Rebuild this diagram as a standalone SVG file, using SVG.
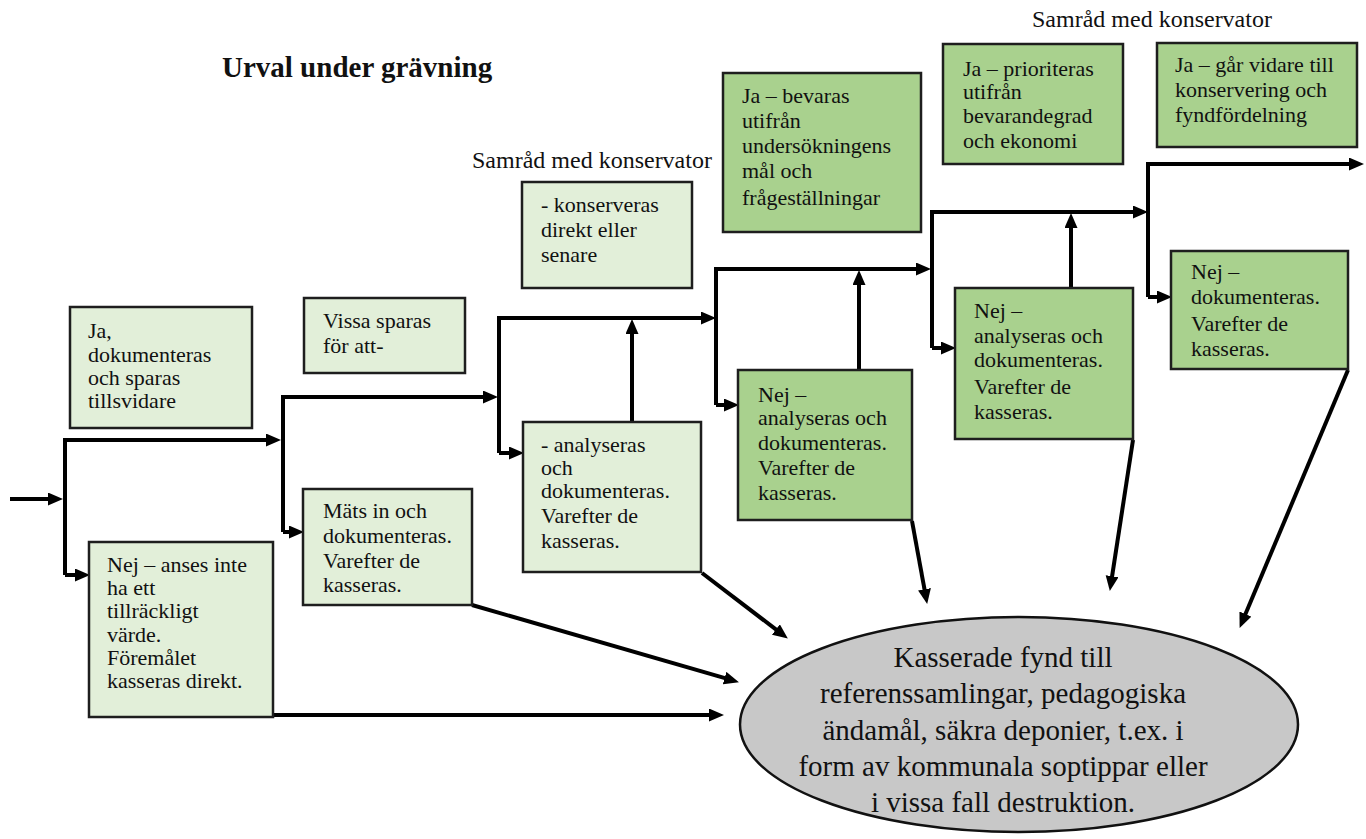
<svg xmlns="http://www.w3.org/2000/svg" width="1366" height="839" viewBox="0 0 1366 839">
<defs>
<marker id="ah" markerUnits="userSpaceOnUse" markerWidth="16" markerHeight="14" refX="4" refY="6.5" orient="auto">
<path d="M0,0 L15,6.5 L0,13 z" fill="#000"/>
</marker>
<style>
.box1{fill:#e2efd9;stroke:#1e1e1e;stroke-width:2.5}
.box2{fill:#a9d18e;stroke:#1e1e1e;stroke-width:2.5}
.t{font-size:22px;fill:#111}
.lbl{font-size:24px;fill:#111}
.title{font-size:29px;font-weight:bold;fill:#111}
.et{font-size:29px;fill:#111;text-anchor:middle}
.ca{fill:none;stroke:#000;stroke-width:4;marker-end:url(#ah)}
</style>
</defs>
<rect width="1366" height="839" fill="#fff"/>

<g id="labels" font-family="'Liberation Serif', 'DejaVu Serif', serif">
<text class="title" x="222" y="77">Urval under grävning</text>
<text class="lbl" x="472" y="168">Samråd med konservator</text>
<text class="lbl" x="1032" y="27">Samråd med konservator</text>
</g>

<g id="connectors">
<path class="ca" d="M10,499 H52"/>
<path class="ca" d="M65,575 V440 H270"/>
<path class="ca" d="M65,575 H79"/>
<path class="ca" d="M283,532 V397 H487"/>
<path class="ca" d="M283,532 H293"/>
<path class="ca" d="M499,453 V318 H705"/>
<path class="ca" d="M499,453 H513"/>
<path class="ca" d="M632,422 V330"/>
<path class="ca" d="M716,405 V269 H920"/>
<path class="ca" d="M716,405 H728"/>
<path class="ca" d="M859,370 V281"/>
<path class="ca" d="M932,348 V212 H1137"/>
<path class="ca" d="M932,348 H945"/>
<path class="ca" d="M1071,288 V224"/>
<path class="ca" d="M1148,297 V164 H1353"/>
<path class="ca" d="M1148,297 H1161"/>
<path class="ca" d="M273,715 H713"/>
<path class="ca" d="M472,605 L728.4,679.2"/>
<path class="ca" d="M702,573 L779.1,631.9"/>
<path class="ca" d="M912,521 L925.2,593.2"/>
<path class="ca" d="M1133,440 L1111.5,580.1"/>
<path class="ca" d="M1348,370 L1243.9,617.8"/>
</g>

<g id="nodes" font-family="'Liberation Serif', 'DejaVu Serif', serif">
<g id="n-ja1">
<rect class="box1" x="70" y="307" width="182" height="121"/>
<text class="t"><tspan x="88" y="338">Ja,</tspan><tspan x="88" y="361.5">dokumenteras</tspan><tspan x="88" y="385">och sparas</tspan><tspan x="88" y="408">tillsvidare</tspan></text>
</g>
<g id="n-nej1">
<rect class="box1" x="89" y="542" width="184" height="175"/>
<text class="t"><tspan x="107" y="572">Nej – anses inte</tspan><tspan x="107" y="595">ha ett</tspan><tspan x="107" y="618">tillräckligt</tspan><tspan x="107" y="642">värde.</tspan><tspan x="107" y="665">Föremålet</tspan><tspan x="107" y="688">kasseras direkt.</tspan></text>
</g>
<g id="n-vissa">
<rect class="box1" x="304" y="298" width="161" height="75"/>
<text class="t"><tspan x="323" y="328">Vissa sparas</tspan><tspan x="323" y="353">för att-</tspan></text>
</g>
<g id="n-mats">
<rect class="box1" x="303" y="489" width="169" height="116"/>
<text class="t"><tspan x="323" y="518">Mäts in och</tspan><tspan x="323" y="543">dokumenteras.</tspan><tspan x="323" y="568">Varefter de</tspan><tspan x="323" y="592">kasseras.</tspan></text>
</g>
<g id="n-konserveras">
<rect class="box1" x="522" y="182" width="170" height="106"/>
<text class="t"><tspan x="541" y="212">- konserveras</tspan><tspan x="541" y="237">direkt eller</tspan><tspan x="541" y="262">senare</tspan></text>
</g>
<g id="n-analyseras1">
<rect class="box1" x="523" y="422" width="178" height="150"/>
<text class="t"><tspan x="541" y="452">- analyseras</tspan><tspan x="541" y="475">och</tspan><tspan x="541" y="498">dokumenteras.</tspan><tspan x="541" y="523">Varefter de</tspan><tspan x="541" y="548">kasseras.</tspan></text>
</g>
<g id="n-bevaras">
<rect class="box2" x="723" y="73" width="198" height="159"/>
<text class="t"><tspan x="742" y="103">Ja – bevaras</tspan><tspan x="742" y="128">utifrån</tspan><tspan x="742" y="153">undersökningens</tspan><tspan x="742" y="178">mål och</tspan><tspan x="742" y="205">frågeställningar</tspan></text>
</g>
<g id="n-nej2">
<rect class="box2" x="738" y="370" width="174" height="150"/>
<text class="t"><tspan x="758" y="402">Nej –</tspan><tspan x="758" y="425">analyseras och</tspan><tspan x="758" y="450">dokumenteras.</tspan><tspan x="758" y="475">Varefter de</tspan><tspan x="758" y="500">kasseras.</tspan></text>
</g>
<g id="n-prioriteras">
<rect class="box2" x="943" y="44" width="180" height="120"/>
<text class="t"><tspan x="963" y="76">Ja – prioriteras</tspan><tspan x="963" y="99">utifrån</tspan><tspan x="963" y="123">bevarandegrad</tspan><tspan x="963" y="148">och ekonomi</tspan></text>
</g>
<g id="n-nej3">
<rect class="box2" x="955" y="288" width="178" height="151"/>
<text class="t"><tspan x="974" y="318">Nej –</tspan><tspan x="974" y="343">analyseras och</tspan><tspan x="974" y="367">dokumenteras.</tspan><tspan x="974" y="394">Varefter de</tspan><tspan x="974" y="419">kasseras.</tspan></text>
</g>
<g id="n-vidare">
<rect class="box2" x="1157" y="43" width="200" height="104"/>
<text class="t"><tspan x="1175" y="72">Ja – går vidare till</tspan><tspan x="1175" y="97">konservering och</tspan><tspan x="1175" y="122">fyndfördelning</tspan></text>
</g>
<g id="n-nej4">
<rect class="box2" x="1171" y="251" width="177" height="118"/>
<text class="t"><tspan x="1191" y="279">Nej –</tspan><tspan x="1191" y="304">dokumenteras.</tspan><tspan x="1191" y="331">Varefter de</tspan><tspan x="1191" y="356">kasseras.</tspan></text>
</g>
<g id="n-kasserade">
<ellipse cx="1019" cy="724.5" rx="279" ry="107.5" fill="#c8c8c8" stroke="#111" stroke-width="2.5"/>
<text class="et"><tspan x="1003" y="667">Kasserade fynd till</tspan><tspan x="1003" y="703">referenssamlingar, pedagogiska</tspan><tspan x="1003" y="740">ändamål, säkra deponier, t.ex. i</tspan><tspan x="1003" y="776">form av kommunala soptippar eller</tspan><tspan x="1003" y="812">i vissa fall destruktion.</tspan></text>
</g>
</g>
</svg>
